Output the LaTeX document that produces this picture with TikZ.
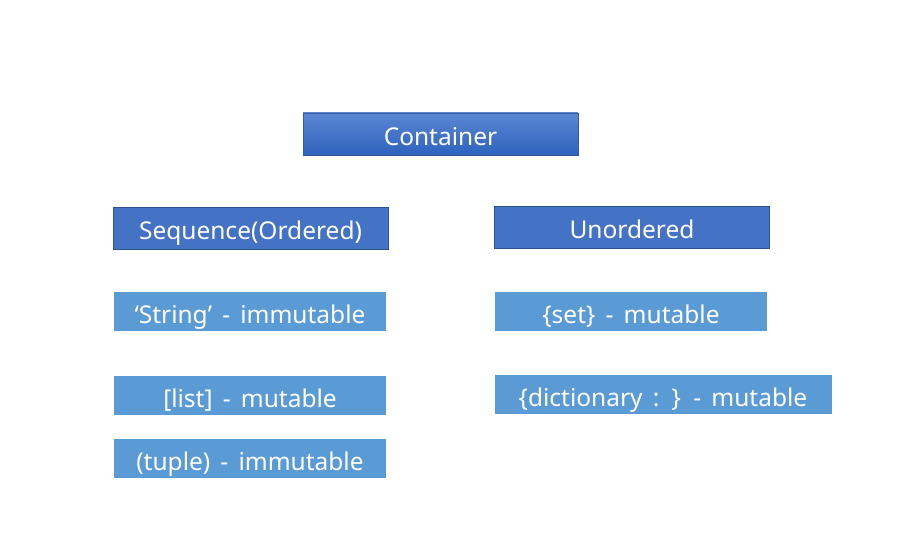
\documentclass[tikz,border=0pt]{standalone}
\usepackage{fontspec}
\setmainfont[WordSpace=1.6]{Noto Sans}
\usetikzlibrary{positioning}
\definecolor{topblue}{HTML}{4472C4}
\definecolor{topline}{HTML}{2F528F}
\definecolor{itemblue}{HTML}{5B9BD5}
\definecolor{headlight}{HTML}{5B87D3}
\definecolor{headdark}{HTML}{2E62BD}

\begin{document}
\begin{tikzpicture}[x=1pt,y=-1pt,
  box/.style={rectangle,inner sep=0pt,text=white,text height=24pt,text depth=0pt,
    font=\fontsize{24.5}{28}\selectfont},
  head node/.style={box,draw=topblue!80!black,top color=headlight,bottom color=headdark,
    minimum width=275pt,minimum height=42pt},
  kind node/.style={box,draw=topline,fill=topblue,minimum width=275pt,minimum height=42pt},
  item node/.style={box,fill=itemblue,minimum width=272pt,minimum height=39pt}]

  \useasboundingbox (0,0) rectangle (911,553);

  \node[head node] (cont) at (440.5,134) {Container};

  \node[kind node] (seq) at (250.5,228) {Sequence(Ordered)};
  \node[kind node] (unord) at (632,227) {Unordered};

  \node[item node] (str) at (250,312) {‘String’ - immutable};
  \node[item node] (lst) at (250,395.5) {[list] - mutable};
  \node[item node] (tup) at (250,458.5) {(tuple) - immutable};

  \node[item node] (set) at (631,311.5) {\{set\} - mutable};
  \node[item node,minimum width=337pt] (dict) at (663,395) {\{dictionary : \} - mutable};
\end{tikzpicture}
\end{document}
